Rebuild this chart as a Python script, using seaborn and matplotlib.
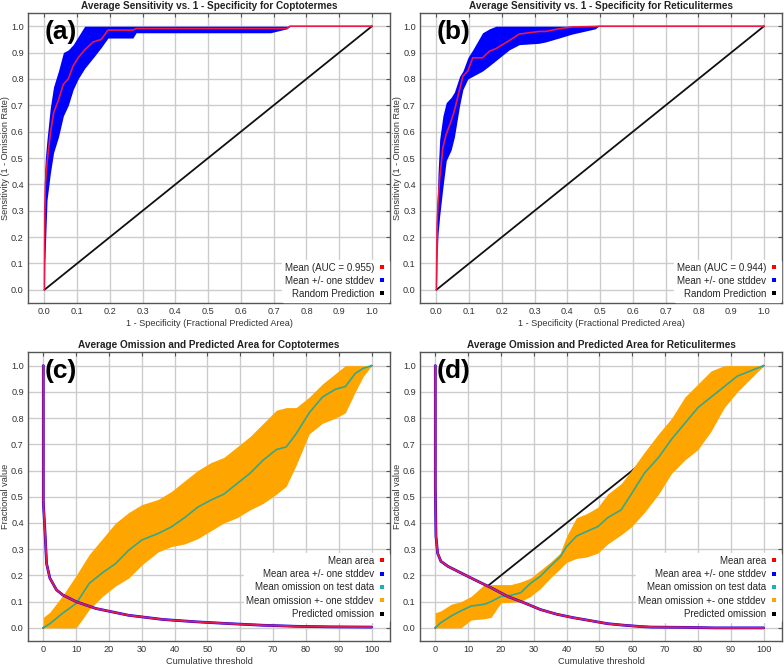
import numpy as np
import pandas as pd
import matplotlib
matplotlib.use("Agg")
import matplotlib.pyplot as plt
from matplotlib.lines import Line2D
import seaborn as sns

# ---------------- data ----------------
# (a) ROC Coptotermes
a_fpr = [0, 0.001, 0.003, 0.008, 0.018, 0.028, 0.043, 0.058, 0.073, 0.088, 0.103, 0.123, 0.149, 0.174, 0.194, 0.27, 0.28, 0.69, 0.74, 0.75, 1.0]
a_mean = [0, 0.29, 0.40, 0.48, 0.59, 0.67, 0.72, 0.78, 0.80, 0.85, 0.88, 0.91, 0.94, 0.95, 0.985, 0.985, 0.991, 0.991, 0.991, 1.0, 1.0]
a_upper = [0, 0.45, 0.50, 0.57, 0.69, 0.77, 0.83, 0.90, 0.91, 0.93, 0.96, 1.0, 1.0, 1.0, 1.0, 1.0, 1.0, 1.0, 1.0, 1.0, 1.0]
a_lower = [0, 0.10, 0.16, 0.34, 0.44, 0.52, 0.58, 0.66, 0.70, 0.76, 0.80, 0.84, 0.88, 0.92, 0.955, 0.955, 0.975, 0.975, 0.99, 1.0, 1.0]

# (b) ROC Reticulitermes
b_fpr = [0, 0.002, 0.005, 0.010, 0.020, 0.030, 0.045, 0.055, 0.071, 0.081, 0.096, 0.111, 0.141, 0.162, 0.182, 0.202, 0.222, 0.253, 0.313, 0.333, 0.374, 0.414, 0.485, 0.495, 1.0]
b_mean = [0, 0.24, 0.33, 0.42, 0.54, 0.59, 0.64, 0.68, 0.76, 0.81, 0.83, 0.88, 0.88, 0.905, 0.915, 0.93, 0.945, 0.97, 0.98, 0.98, 0.99, 0.997, 0.999, 1.0, 1.0]
b_upper = [0, 0.29, 0.44, 0.57, 0.66, 0.71, 0.73, 0.75, 0.81, 0.83, 0.88, 0.91, 0.975, 0.99, 1.0, 1.0, 1.0, 1.0, 1.0, 1.0, 1.0, 1.0, 1.0, 1.0, 1.0]
b_lower = [0, 0.11, 0.21, 0.28, 0.39, 0.49, 0.53, 0.58, 0.70, 0.76, 0.80, 0.81, 0.83, 0.85, 0.87, 0.89, 0.91, 0.93, 0.935, 0.94, 0.955, 0.97, 0.99, 1.0, 1.0]

# (c) omission / area Coptotermes
c_thr = [0, 2, 6, 10, 14, 18, 22, 26, 30, 35, 39, 43, 47, 51, 55, 59, 63, 67, 71, 74, 77, 81, 85, 89, 92, 95, 97.5, 100]
c_om_mean = [0, 0.016, 0.057, 0.093, 0.17, 0.21, 0.245, 0.296, 0.335, 0.36, 0.385, 0.42, 0.46, 0.487, 0.51, 0.55, 0.59, 0.64, 0.68, 0.69, 0.74, 0.82, 0.88, 0.91, 0.92, 0.97, 0.99, 1.0]
c_om_upper = [0.04, 0.06, 0.125, 0.20, 0.28, 0.34, 0.40, 0.44, 0.47, 0.49, 0.52, 0.56, 0.60, 0.63, 0.65, 0.69, 0.73, 0.78, 0.83, 0.84, 0.84, 0.88, 0.93, 0.97, 1.0, 1.0, 1.0, 1.0]
c_om_lower = [0, 0, 0, 0, 0.07, 0.12, 0.16, 0.19, 0.24, 0.29, 0.31, 0.32, 0.34, 0.37, 0.40, 0.42, 0.45, 0.475, 0.51, 0.54, 0.62, 0.74, 0.78, 0.80, 0.82, 0.90, 0.96, 1.0]
c_area_thr = [0, 0, 0.5, 1, 2, 4, 6, 10, 16, 26, 36.5, 46.7, 57, 67, 77, 87, 100]
c_area = [1.0, 0.48, 0.37, 0.245, 0.19, 0.145, 0.125, 0.10, 0.074, 0.048, 0.032, 0.023, 0.016, 0.010, 0.006, 0.004, 0.003]

# (d) omission / area Reticulitermes
d_thr = [0, 1.7, 4.8, 7.8, 10.9, 14.9, 17, 20, 23, 26, 29, 32, 35, 38, 40, 43, 46, 49.5, 52.5, 56.6, 59.7, 63.7, 68, 72, 76, 80, 84, 88, 92, 96, 100]
d_om_mean = [0, 0.02, 0.045, 0.065, 0.083, 0.09, 0.10, 0.12, 0.124, 0.134, 0.17, 0.197, 0.235, 0.27, 0.31, 0.35, 0.367, 0.386, 0.42, 0.45, 0.51, 0.59, 0.65, 0.72, 0.78, 0.84, 0.88, 0.92, 0.96, 0.98, 1.0]
d_om_upper = [0.058, 0.065, 0.09, 0.10, 0.12, 0.165, 0.165, 0.165, 0.165, 0.175, 0.19, 0.22, 0.25, 0.285, 0.35, 0.42, 0.435, 0.46, 0.51, 0.55, 0.60, 0.67, 0.74, 0.80, 0.88, 0.93, 0.98, 1.0, 1.0, 1.0, 1.0]
d_om_lower = [0, 0, 0, 0, 0.03, 0.035, 0.04, 0.096, 0.098, 0.10, 0.12, 0.15, 0.19, 0.225, 0.25, 0.265, 0.27, 0.285, 0.32, 0.355, 0.385, 0.44, 0.51, 0.59, 0.64, 0.68, 0.75, 0.84, 0.90, 0.95, 1.0]
d_area_thr = [0, 0, 0.2, 0.7, 1.7, 3.8, 6.8, 11.9, 17, 22, 27, 32, 37, 42, 47.5, 52.5, 57.6, 62.7, 65.8, 76, 85, 100]
d_area = [1.0, 0.54, 0.35, 0.285, 0.254, 0.235, 0.216, 0.184, 0.153, 0.12, 0.096, 0.07, 0.052, 0.039, 0.027, 0.016, 0.010, 0.005, 0.003, 0.002, 0.0, 0.0]

random_x = [0, 1]
random_y = [0, 1]
pred_om_x = [0, 100]
pred_om_y = [0, 1]

titles = ["Average Sensitivity vs. 1 - Specificity for Coptotermes",
          "Average Sensitivity vs. 1 - Specificity for Reticulitermes",
          "Average Omission and Predicted Area for Coptotermes",
          "Average Omission and Predicted Area for Reticulitermes"]
letters = ["(a)", "(b)", "(c)", "(d)"]
auc_values = [0.955, 0.944]
roc_ticks = [0.0, 0.1, 0.2, 0.3, 0.4, 0.5, 0.6, 0.7, 0.8, 0.9, 1.0]
thr_ticks = [0, 10, 20, 30, 40, 50, 60, 70, 80, 90, 100]

# ---------------- style ----------------
sns.set_style("whitegrid")
plt.rcParams["font.family"] = ["Liberation Sans", "DejaVu Sans"]

RED = "#e8194a"
BLUE = "#0000ff"
ORANGE = "#ffa500"
TEAL = "#35a88c"
GRID = "#cccccc"
FRAME = "#555555"
TXT = "#333333"

fig = plt.figure(figsize=(7.84, 6.70), dpi=100)
W, H = 784.0, 670.0
def box(l, t, r, b):
    return [l / W, (H - b) / H, (r - l) / W, (b - t) / H]

ax_a = fig.add_axes(box(28, 13, 390, 303))
ax_b = fig.add_axes(box(420, 13, 782, 303))
ax_c = fig.add_axes(box(28, 352, 390, 641))
ax_d = fig.add_axes(box(420, 352, 782, 641))
axes = [ax_a, ax_b, ax_c, ax_d]

def style(ax, ticks, xlim, ylim):
    ax.set_xticks(ticks)
    ax.set_yticks(roc_ticks)
    ax.set_xlim(*xlim)
    ax.set_ylim(*ylim)
    ax.grid(True, color=GRID, linewidth=1.0)
    for s in ax.spines.values():
        s.set_color(FRAME)
        s.set_linewidth(1.0)
    ax.tick_params(direction="in", top=True, right=True, length=3, width=0.8,
                   color=FRAME, labelsize=6.6, labelcolor=TXT, pad=3)

roc_sets = [(a_fpr, a_mean, a_upper, a_lower), (b_fpr, b_mean, b_upper, b_lower)]
for i, ax in enumerate([ax_a, ax_b]):
    fpr, mean, up, lo = roc_sets[i]
    style(ax, roc_ticks, (-0.05, 1.055), (-0.05, 1.05))
    ax.set_xticklabels([f"{t:.1f}" for t in roc_ticks])
    ax.set_yticklabels([f"{t:.1f}" for t in roc_ticks])
    sns.lineplot(x=random_x, y=random_y, ax=ax, color="#111111", linewidth=1.3, zorder=2)
    ax.fill_between(fpr, lo, up, color=BLUE, linewidth=0, zorder=3)
    sns.lineplot(x=fpr, y=mean, ax=ax, color=RED, linewidth=1.2, zorder=4,
                 estimator=None, sort=False)
    ax.set_xlabel("1 - Specificity (Fractional Predicted Area)", fontsize=6.6, color=TXT, labelpad=2)
    ax.set_ylabel("Sensitivity (1 - Omission Rate)", fontsize=6.6, color=TXT, labelpad=1)
    handles = [Line2D([], [], linestyle="none", marker="s", markersize=3.5, color=c, markeredgewidth=0)
               for c in ["#ff0000", BLUE, "#000000"]]
    labels = [f"Mean (AUC = {auc_values[i]:.3f})", "Mean +/- one stddev", "Random Prediction"]
    leg = ax.legend(handles, labels, loc="lower right", markerfirst=False, fontsize=7,
                    frameon=True, framealpha=1, edgecolor="white", facecolor="white",
                    handlelength=0.8, handletextpad=0.4, labelspacing=0.3,
                    borderpad=0.3, borderaxespad=0.15)
    leg.set_zorder(10)

om_sets = [(c_thr, c_om_mean, c_om_upper, c_om_lower, c_area_thr, c_area),
           (d_thr, d_om_mean, d_om_upper, d_om_lower, d_area_thr, d_area)]
for i, ax in enumerate([ax_c, ax_d]):
    thr, om, up, lo, athr, area = om_sets[i]
    style(ax, thr_ticks, (-4.66, 105.6), (-0.05, 1.052))
    ax.set_xticklabels([str(t) for t in thr_ticks])
    ax.set_yticklabels([f"{t:.1f}" for t in roc_ticks])
    sns.lineplot(x=pred_om_x, y=pred_om_y, ax=ax, color="#111111", linewidth=1.3, zorder=2)
    ax.fill_between(thr, lo, up, color=ORANGE, linewidth=0, zorder=3)
    sns.lineplot(x=thr, y=om, ax=ax, color=TEAL, linewidth=1.2, zorder=4,
                 estimator=None, sort=False)
    sns.lineplot(x=athr, y=area, ax=ax, color=BLUE, linewidth=2.0, zorder=11,
                 estimator=None, sort=False)
    sns.lineplot(x=athr, y=area, ax=ax, color="#e01a55", linewidth=1.4, zorder=12,
                 estimator=None, sort=False)
    ax.set_xlabel("Cumulative threshold", fontsize=6.6, color=TXT, labelpad=2)
    ax.set_ylabel("Fractional value", fontsize=6.6, color=TXT, labelpad=1)
    handles = [Line2D([], [], linestyle="none", marker="s", markersize=3.5, color=c, markeredgewidth=0)
               for c in ["#ff0000", BLUE, "#20b0b0", ORANGE, "#000000"]]
    labels = ["Mean area", "Mean area +/- one stddev", "Mean omission on test data",
              "Mean omission +- one stddev", "Predicted omission"]
    leg = ax.legend(handles, labels, loc="lower right", bbox_to_anchor=(1.0, 0.06),
                    markerfirst=False, fontsize=7,
                    frameon=True, framealpha=1, edgecolor="white", facecolor="white",
                    handlelength=0.8, handletextpad=0.4, labelspacing=0.35,
                    borderpad=0.3, borderaxespad=0.15)
    leg.set_zorder(10)

for ax, title, letter in zip(axes, titles, letters):
    ax.set_title(title, fontsize=7.2, fontweight="bold", color="#222222", pad=3)
    ax.text(0.045, 0.975, letter, transform=ax.transAxes, fontsize=19, fontweight="bold",
            va="top", ha="left", color="black", zorder=13)

fig.savefig("out.png", dpi=100)
